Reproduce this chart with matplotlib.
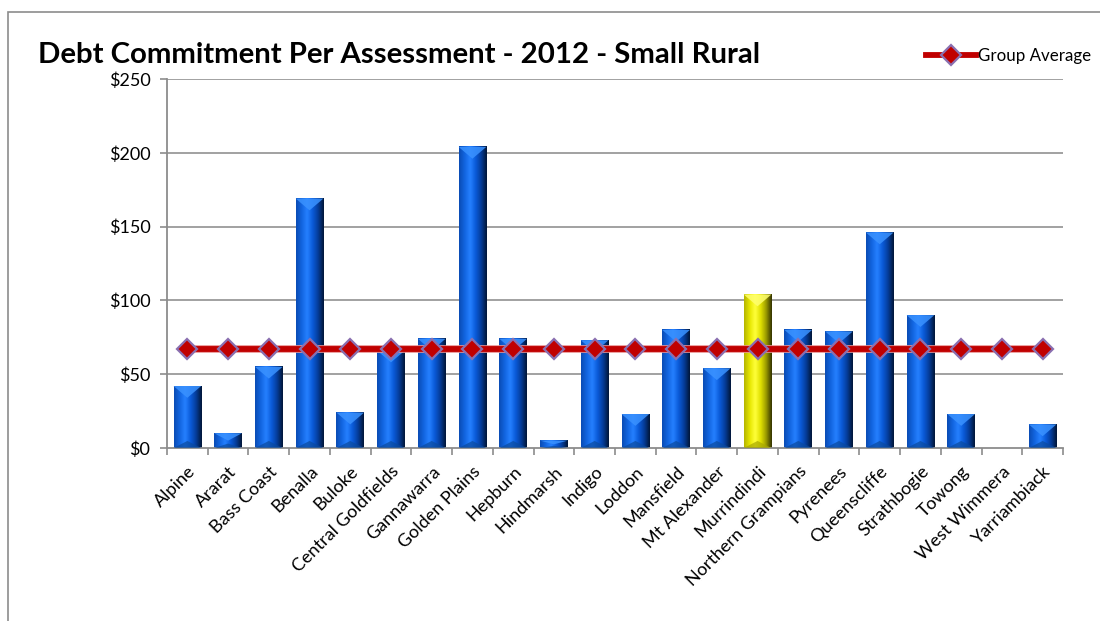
import numpy as np
import matplotlib.pyplot as plt
from matplotlib.colors import LinearSegmentedColormap
from matplotlib.patches import Polygon, Rectangle

plt.rcParams['font.family'] = ['Lato', 'DejaVu Sans']

councils = ['Alpine', 'Ararat', 'Bass Coast', 'Benalla', 'Buloke', 'Central Goldfields',
            'Gannawarra', 'Golden Plains', 'Hepburn', 'Hindmarsh', 'Indigo', 'Loddon',
            'Mansfield', 'Mt Alexander', 'Murrindindi', 'Northern Grampians', 'Pyrenees',
            'Queenscliffe', 'Strathbogie', 'Towong', 'West Wimmera', 'Yarriambiack']
debt = [42, 10, 55, 169, 24, 66, 74, 204, 74, 5, 73, 23,
        80, 54, 104, 80, 79, 146, 90, 23, 0, 16]
group_avg = [67] * len(councils)
highlight = 'Murrindindi'

yticks = [0, 50, 100, 150, 200, 250]
ytick_labels = ['$0', '$50', '$100', '$150', '$200', '$250']

blue_cmap = LinearSegmentedColormap.from_list(
    'bar_blue', ['#0a4cb4', '#1265e0', '#2580ff', '#0a5ad8', '#053c98', '#011638'])
yellow_cmap = LinearSegmentedColormap.from_list(
    'bar_yellow', ['#b5b500', '#e6e600', '#ffff3a', '#e0e000', '#9a9a00', '#333300'])
bevel_top = {'blue': '#3a92ff', 'yellow': '#ffff70'}
bevel_bot = {'blue': '#0b4a9e', 'yellow': '#a8a800'}

fig = plt.figure(figsize=(11, 6.21), dpi=100)
ax = fig.add_axes([167 / 1100, 1 - 448 / 621, (1063 - 167) / 1100, (448 - 79) / 621])

# outer chart frame, cut off at the right and bottom
fig.patches.append(Rectangle((8 / 1100, -0.1), 1.2, 1.1 - 12 / 621, transform=fig.transFigure,
                             fill=False, edgecolor='#8c8c8c', linewidth=1.2))

n = len(councils)
x = np.arange(n)
ax.set_xlim(-0.5, n - 0.5)
ax.set_ylim(0, 250)

for y in yticks[1:]:
    ax.axhline(y, color='#9a9a9a', linewidth=1.3, zorder=1)

# bevelled gradient bars
w = 0.68
px_per_unit_x = ax.get_position().width * 1100 / n
px_per_unit_y = ax.get_position().height * 621 / 250
grad = np.linspace(0, 1, 64).reshape(1, -1)
for xi, v, name in zip(x, debt, councils):
    if v <= 0:
        continue
    kind = 'yellow' if name == highlight else 'blue'
    cmap = yellow_cmap if kind == 'yellow' else blue_cmap
    x0, x1 = xi - w / 2, xi + w / 2
    ax.imshow(grad, cmap=cmap, extent=[x0, x1, 0, v], aspect='auto', zorder=2,
              interpolation='bicubic')
    depth = min(w / 2 * px_per_unit_x * 0.85 / px_per_unit_y, v / 2)
    ax.add_patch(Polygon([[x0, v], [x1, v], [xi, v - depth]], closed=True,
                         facecolor=bevel_top[kind], edgecolor='none', alpha=0.85, zorder=3))
    bdepth = min(depth * 0.6, v / 3)
    ax.add_patch(Polygon([[x0, 0], [x1, 0], [xi, bdepth]], closed=True,
                         facecolor=bevel_bot[kind], edgecolor='none', alpha=0.7, zorder=3))

# group average line
ax.plot(x, group_avg, color='#e89090', linewidth=5.5, zorder=4)
ax.plot(x, group_avg, color='#c00000', linewidth=4.2, zorder=5,
        marker='D', markersize=10.5, markerfacecolor='#c00000', markeredgecolor='#8a6fb0',
        markeredgewidth=1.6, label='Group Average')

ax.set_yticks(yticks)
ax.set_yticklabels(ytick_labels, fontsize=13)
ax.set_xticks(x)
ax.set_xticklabels(councils, rotation=45, ha='right', rotation_mode='anchor', fontsize=13)
ax.set_xticks(np.arange(-0.5, n, 1), minor=True)
ax.tick_params(axis='x', which='major', length=0, pad=11)
ax.tick_params(axis='x', which='minor', length=5, color='#8c8c8c', width=1.2)
ax.tick_params(axis='y', length=5, color='#8c8c8c', width=1.2, pad=7)

for side in ['top', 'right']:
    ax.spines[side].set_visible(False)
for side in ['left', 'bottom']:
    ax.spines[side].set_color('#8c8c8c')
    ax.spines[side].set_linewidth(1.3)

fig.text(38 / 1100, 1 - 63 / 621, 'Debt Commitment Per Assessment - 2012 - Small Rural',
         fontsize=21.2, fontweight='bold', ha='left', va='baseline')

leg = fig.legend(loc='upper right', bbox_to_anchor=(1098 / 1100, 1 - 41 / 621), frameon=False,
                 fontsize=12.2, handlelength=3.0, handletextpad=0.1, borderaxespad=0)

plt.savefig('out.png', dpi=100)
